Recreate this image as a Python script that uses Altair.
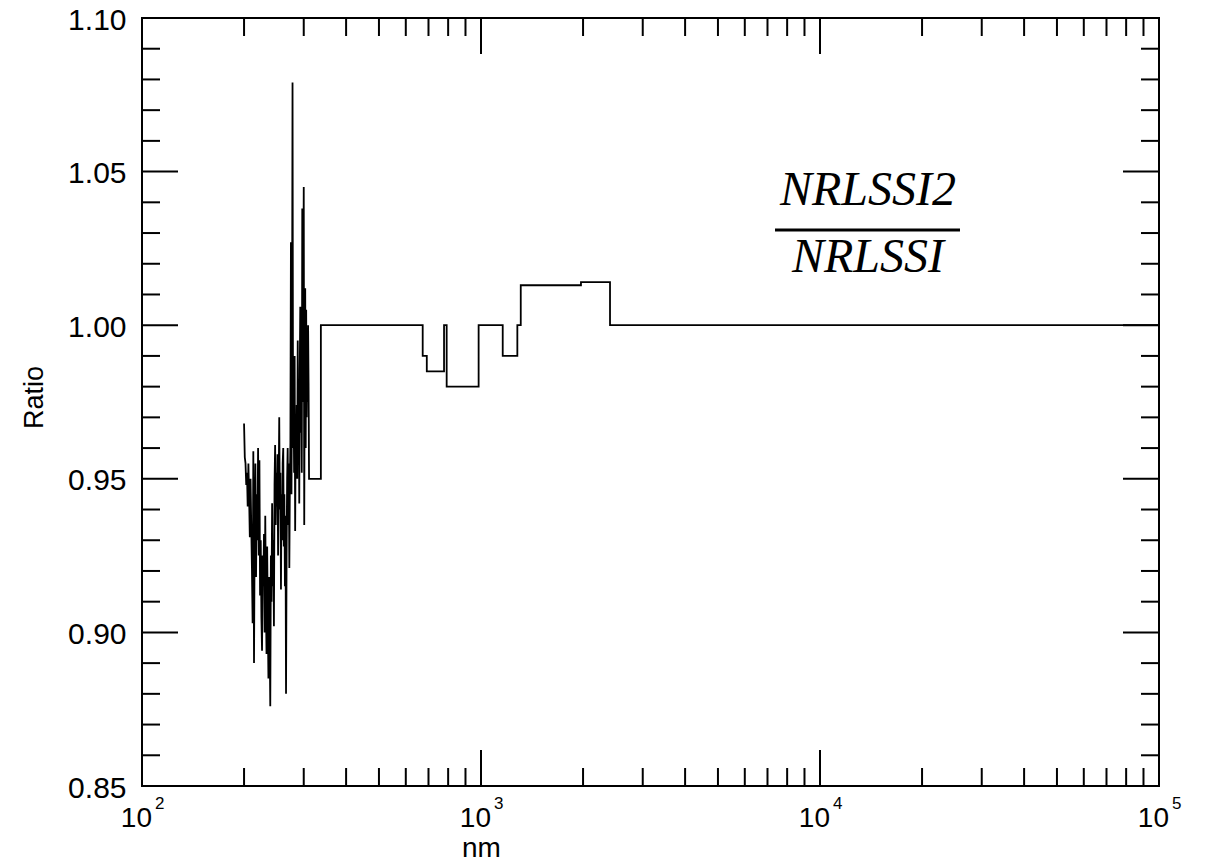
import altair as alt
import pandas as pd

# ---------------- data ----------------
# noisy UV part (nm, ratio)
uv_nm = [200, 201, 202, 203, 204, 205, 206, 207, 208, 209,
         210, 211, 212, 213, 214, 215, 216, 217, 218, 219,
         220, 221, 222, 223, 224, 225, 226, 227, 228, 229,
         230, 231, 232, 233, 234, 235, 236, 237, 238, 239,
         240, 241, 242, 243, 244, 245, 246, 247, 248, 249,
         250, 251, 252, 253, 254, 255, 256, 257, 258, 259,
         260, 261, 262, 263, 264, 265, 266, 267, 268, 269,
         270, 271, 272, 273, 274, 275, 276, 277, 278, 279,
         280, 281, 282, 283, 284, 285, 286, 287, 288, 289,
         290, 291, 292, 293, 294, 295, 296, 297, 298, 299,
         300, 301, 302, 303, 304, 305, 306, 307, 308, 309, 310]
uv_ratio = [0.968, 0.957, 0.955, 0.948, 0.952, 0.941, 0.955, 0.944, 0.931, 0.950,
            0.935, 0.921, 0.903, 0.959, 0.890, 0.935, 0.955, 0.918, 0.945, 0.930,
            0.960, 0.925, 0.956, 0.912, 0.930, 0.905, 0.894, 0.925, 0.915, 0.932,
            0.900, 0.938, 0.910, 0.893, 0.928, 0.905, 0.885, 0.918, 0.898, 0.876,
            0.925, 0.910, 0.942, 0.915, 0.930, 0.902, 0.948, 0.961, 0.935, 0.952,
            0.941, 0.958, 0.925, 0.948, 0.970, 0.940, 0.952, 0.914, 0.945, 0.930,
            0.955, 0.960, 0.928, 0.945, 0.915, 0.938, 0.880, 0.925, 0.950, 0.960,
            0.935, 0.955, 0.921, 0.948, 0.962, 1.027, 0.945, 0.985, 1.079, 0.960,
            0.975, 0.952, 0.990, 0.933, 0.965, 0.955, 0.974, 0.950, 0.995, 0.960,
            0.980, 0.942, 0.985, 1.006, 0.965, 0.990, 0.952, 1.038, 0.975, 1.000,
            1.045, 0.935, 0.990, 1.012, 0.960, 1.005, 0.970, 0.990, 0.975, 1.000, 0.981]

# stepped part (nm, ratio)
step_nm = [311, 337, 337, 673, 673, 692, 692, 778, 778, 792, 792, 984, 984,
           1159, 1159, 1280, 1280, 1310, 1310, 1972, 1972, 2402, 2402, 100000]
step_ratio = [0.950, 0.950, 1.000, 1.000, 0.990, 0.990, 0.985, 0.985, 1.000, 1.000,
              0.980, 0.980, 1.000, 1.000, 0.990, 0.990, 1.000, 1.000, 1.013, 1.013,
              1.014, 1.014, 1.000, 1.000]

# axis ticks
x_major = [100, 1000, 10000, 100000]
x_exponents = ["2", "3", "4", "5"]
x_minor = [200, 300, 400, 500, 600, 700, 800, 900,
           2000, 3000, 4000, 5000, 6000, 7000, 8000, 9000,
           20000, 30000, 40000, 50000, 60000, 70000, 80000, 90000]
y_major = [0.85, 0.90, 0.95, 1.00, 1.05, 1.10]
y_minor = [0.86, 0.87, 0.88, 0.89, 0.91, 0.92, 0.93, 0.94, 0.96, 0.97, 0.98, 0.99,
           1.01, 1.02, 1.03, 1.04, 1.06, 1.07, 1.08, 1.09]

# annotation (fraction)
frac_labels = ["NRLSSI2", "NRLSSI"]
frac_nm = [13850, 13850]
frac_ratio = [1.0391, 1.0173]
frac_bar_nm = [7367, 25880]
frac_bar_ratio = 1.031

# ---------------- chart ----------------
W, H = 1017, 768
FONT = "Liberation Sans"

line_df = pd.DataFrame({
    "nm": uv_nm + step_nm,
    "ratio": uv_ratio + step_ratio,
})
line_df["idx"] = range(len(line_df))

xs = alt.Scale(type="log", domain=[100, 100000], nice=False)
ys = alt.Scale(domain=[0.85, 1.10], nice=False, zero=False)

X_AXIS = alt.Axis(
    values=x_major, labels=False, ticks=False, domain=False, grid=False,
    title="nm", titleFont=FONT, titleFontSize=28, titleFontWeight="normal",
    titleColor="black", titleX=339, titleY=70, titleBaseline="alphabetic")
Y_AXIS = alt.Axis(
    values=y_major, format=".2f", ticks=False, tickSize=0, domain=False, grid=False,
    labelFont=FONT, labelFontSize=30, labelColor="black", labelPadding=16,
    labelBaseline="middle", labelOffset=2,
    title="Ratio", titleFont=FONT, titleFontSize=27, titleFontWeight="normal",
    titleColor="black", titleX=-100, titleY=379, titleBaseline="alphabetic")


def X(field):
    return alt.X(field, scale=xs, axis=X_AXIS, title="nm")


def Y(field):
    return alt.Y(field, scale=ys, axis=Y_AXIS, title="Ratio")


line = alt.Chart(line_df).mark_line(color="black", strokeWidth=1.8).encode(
    x=X("nm:Q"), y=Y("ratio:Q"), order="idx:Q",
)

xmaj = pd.DataFrame({"v": x_major, "e": x_exponents, "b": ["10"] * 4})
xmin = pd.DataFrame({"v": x_minor})
ymaj = pd.DataFrame({"v": y_major})
ymin = pd.DataFrame({"v": y_minor})


def xticks(df, length):
    bot = alt.Chart(df).mark_rule(color="black", strokeWidth=2).encode(
        x=X("v:Q"), y=alt.value(H), y2=alt.value(H - length))
    top = alt.Chart(df).mark_rule(color="black", strokeWidth=2).encode(
        x=X("v:Q"), y=alt.value(0), y2=alt.value(length))
    return [bot, top]


def yticks(df, length):
    left = alt.Chart(df).mark_rule(color="black", strokeWidth=2).encode(
        y=Y("v:Q"), x=alt.value(0), x2=alt.value(length))
    right = alt.Chart(df).mark_rule(color="black", strokeWidth=2).encode(
        y=Y("v:Q"), x=alt.value(W), x2=alt.value(W - length))
    return [left, right]


base_lbl = alt.Chart(xmaj).mark_text(font=FONT, fontSize=28, align="right",
                                     baseline="alphabetic", dx=10, color="black").encode(
    x=X("v:Q"), y=alt.value(H + 41), text="b:N")
exp_lbl = alt.Chart(xmaj).mark_text(font=FONT, fontSize=17, align="left",
                                    baseline="alphabetic", dx=13, color="black").encode(
    x=X("v:Q"), y=alt.value(H + 23), text="e:N")

frac_df = pd.DataFrame({"nm": frac_nm, "ratio": frac_ratio, "t": frac_labels})
frac_text = alt.Chart(frac_df).mark_text(font="Liberation Serif", fontStyle="italic",
                                         fontSize=48, align="center", baseline="alphabetic",
                                         color="black").encode(
    x=X("nm:Q"), y=Y("ratio:Q"), text="t:N")
bar_df = pd.DataFrame({"a": [frac_bar_nm[0]], "b": [frac_bar_nm[1]], "r": [frac_bar_ratio]})
frac_bar = alt.Chart(bar_df).mark_rule(color="black", strokeWidth=3).encode(
    x=X("a:Q"), x2="b:Q", y=Y("r:Q"))

layers = [line] + xticks(xmaj, 36) + xticks(xmin, 18) + yticks(ymaj, 36) + yticks(ymin, 18) \
    + [base_lbl, exp_lbl, frac_text, frac_bar]

chart = alt.layer(*layers).properties(
    width=W, height=H,
    autosize="none",
    padding={"left": 134, "top": 10, "right": 35, "bottom": 76},
    background="white",
).configure_view(stroke="black", strokeWidth=2).configure_axis(
    titleFontSize=27, labelFontSize=30, titleFont=FONT, labelFont=FONT,
    titleFontWeight="normal", titleColor="black", labelColor="black")

chart.save("out.html", embed_options={"renderer": "svg", "actions": False})
